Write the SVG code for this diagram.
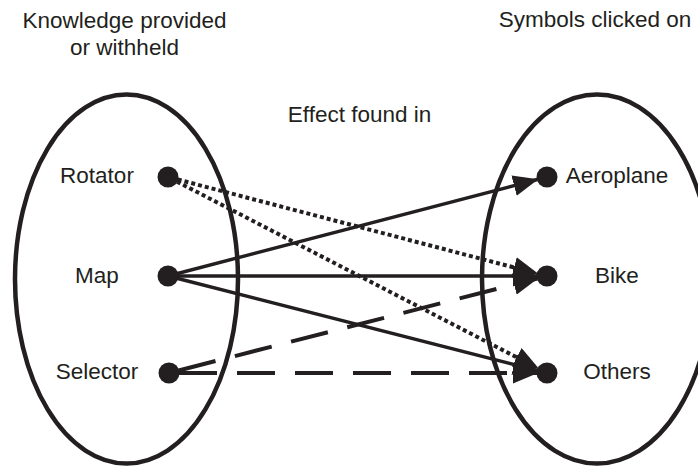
<svg xmlns="http://www.w3.org/2000/svg" width="698" height="467" viewBox="0 0 698 467">
<style>
text{font-family:"Liberation Sans",Arial,sans-serif;font-size:22.5px;fill:#231f20;text-anchor:middle}
.ell{fill:none;stroke:#231f20;stroke-width:4.5}
.dot{fill:#231f20}
.c{fill:none;stroke:#231f20;stroke-width:3.4;marker-end:url(#ah)}
.dotted{stroke-width:4;stroke-dasharray:4 3}
.dashed{stroke-width:4;stroke-dasharray:38 20}
</style>
<defs>
<marker id="ah" markerUnits="userSpaceOnUse" viewBox="0 0 25 21" refX="24" refY="10.5" markerWidth="25" markerHeight="21" orient="auto">
<path d="M0,0 L25,10.5 L0,21 Z" fill="#231f20"/>
</marker>
</defs>
<rect width="698" height="467" fill="#fff"/>
<g id="headings">
<text x="124.5" y="28">Knowledge provided</text>
<text x="124.5" y="55">or withheld</text>
<text x="595" y="27">Symbols clicked on</text>
<text x="359.5" y="122">Effect found in</text>
</g>
<g id="left-set"><ellipse class="ell" cx="126.5" cy="279" rx="111.5" ry="184.5"/></g>
<g id="right-set"><ellipse class="ell" cx="597" cy="279" rx="115" ry="184.5"/></g>
<g id="connectors">
<line class="c dotted" x1="177.7" y1="179.5" x2="537.3" y2="273.5"/>
<line class="c dotted" x1="176.9" y1="181.6" x2="538.1" y2="368.4"/>
<line class="c" x1="168" y1="276" x2="537.3" y2="179.5"/>
<line class="c" x1="168" y1="276" x2="537" y2="276"/>
<line class="c" x1="168" y1="276" x2="537.3" y2="370.5"/>
<line class="c dashed" x1="178.7" y1="370.5" x2="537.3" y2="278.5"/>
<line class="c dashed" x1="179" y1="373" x2="537" y2="373"/>
</g>
<g id="rotator"><circle class="dot" cx="168" cy="177" r="10.5"/><text x="97" y="183">Rotator</text></g>
<g id="map"><circle class="dot" cx="168" cy="276" r="10.5"/><text x="97" y="283">Map</text></g>
<g id="selector"><circle class="dot" cx="169" cy="373" r="10.5"/><text x="97" y="379">Selector</text></g>
<g id="aeroplane"><circle class="dot" cx="547" cy="177" r="10.5"/><text x="617" y="183">Aeroplane</text></g>
<g id="bike"><circle class="dot" cx="547" cy="276" r="10.5"/><text x="617" y="283">Bike</text></g>
<g id="others"><circle class="dot" cx="547" cy="373" r="10.5"/><text x="617" y="379">Others</text></g>
</svg>
